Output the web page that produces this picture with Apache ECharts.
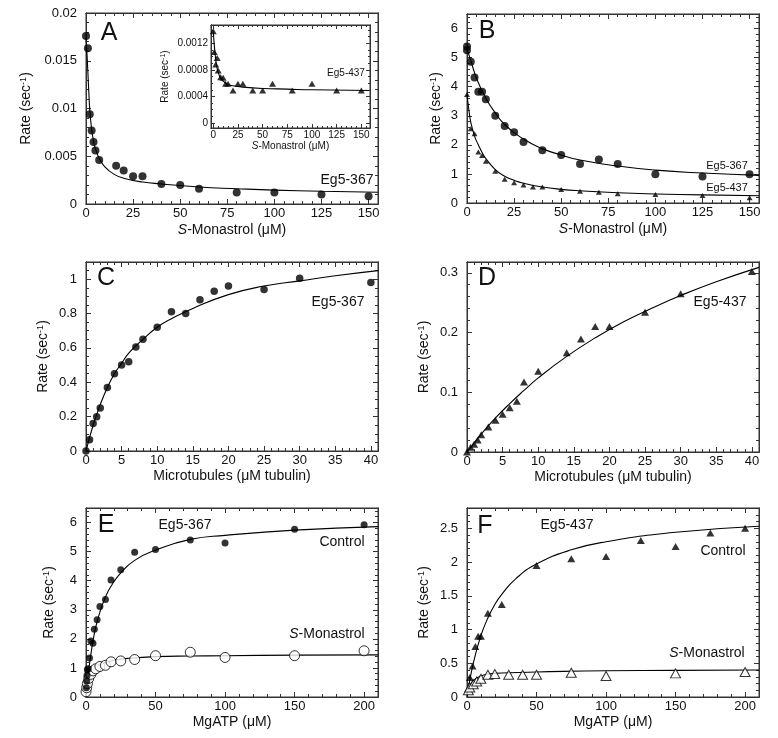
<!DOCTYPE html>
<html><head><meta charset="utf-8">
<script src="https://cdn.jsdelivr.net/npm/echarts@6/dist/echarts.min.js"></script>
<style>html,body{margin:0;padding:0;background:#fff}#c{width:778px;height:738px}</style>
</head><body><div id="c"></div>
<script>
// ---------- DATA ----------
// Panel A: Eg5-367, S-Monastrol
const aX = [0, 1, 2, 3, 4, 5, 7, 16, 20, 25, 30, 40, 50, 60, 80, 100, 125, 150];
const aY = [0.0176, 0.0163, 0.0094, 0.0077, 0.0065, 0.0056, 0.0046, 0.0040, 0.0035, 0.0029, 0.0029, 0.0021, 0.0020, 0.0016, 0.0012, 0.0012, 0.0010, 0.0008];
const fitAX = [0, 0.5, 1, 1.5, 2, 3, 4, 5, 7, 10, 15, 20, 30, 40, 60, 80, 100, 125, 155];
const fitAY = [0.0175, 0.0158, 0.0138, 0.0117, 0.0099, 0.0078, 0.0066, 0.0058, 0.0048, 0.0039, 0.0031, 0.0027, 0.0023, 0.0021, 0.00178, 0.0016, 0.00145, 0.00133, 0.00123];
// Inset: Eg5-437
const insX = [0, 1, 2.5, 4, 5, 7.5, 10, 12.5, 15, 20, 25, 30, 40, 50, 60, 80, 100, 125, 150];
const insY = [0.00138, 0.00107, 0.00088, 0.00098, 0.00079, 0.00069, 0.00068, 0.00059, 0.00059, 0.00049, 0.00059, 0.00059, 0.00049, 0.00049, 0.00059, 0.00049, 0.00059, 0.00049, 0.00049];
const fitInsX = [0, 1, 2, 3, 4, 6, 8, 10, 15, 20, 30, 50, 75, 100, 158];
const fitInsY = [0.00138, 0.00118, 0.00102, 0.0009, 0.00082, 0.00072, 0.00066, 0.00063, 0.00058, 0.00056, 0.00054, 0.00052, 0.00051, 0.0005, 0.00049];
// Panel B
const b367X = [0, 0, 2, 4, 6, 8, 10, 15, 20, 25, 30, 40, 50, 60, 70, 80, 100, 125, 150];
const b367Y = [5.38, 5.25, 4.86, 4.32, 3.83, 3.83, 3.57, 3.0, 2.65, 2.43, 2.1, 1.81, 1.65, 1.34, 1.5, 1.34, 0.99, 0.91, 0.99];
const fitB367X = [0, 2, 5, 10, 15, 20, 30, 40, 50, 60, 80, 100, 125, 155];
const fitB367Y = [5.3, 4.9, 4.3, 3.6, 3.1, 2.7, 2.2, 1.87, 1.65, 1.48, 1.27, 1.13, 1.03, 0.95];
const b437X = [0, 2, 4, 6, 8, 10, 15, 20, 25, 30, 35, 40, 50, 60, 70, 80, 100, 125, 150];
const b437Y = [3.73, 2.55, 2.38, 1.75, 1.63, 1.44, 1.09, 0.82, 0.70, 0.62, 0.55, 0.55, 0.46, 0.40, 0.37, 0.32, 0.29, 0.26, 0.18];
const fitB437X = [0, 1, 2, 4, 6, 8, 10, 15, 20, 25, 30, 40, 50, 60, 80, 100, 125, 155];
const fitB437Y = [3.72, 3.2, 2.78, 2.3, 2.0, 1.74, 1.53, 1.15, 0.92, 0.78, 0.68, 0.55, 0.47, 0.42, 0.35, 0.31, 0.28, 0.25];
// Panel C: Eg5-367, microtubules
const cX = [0, 0.5, 1, 1.5, 2, 3, 4, 5, 6, 7, 8, 10, 12, 14, 16, 18, 20, 25, 30, 40];
const cY = [0, 0.066, 0.16, 0.20, 0.25, 0.37, 0.45, 0.50, 0.52, 0.605, 0.65, 0.72, 0.81, 0.80, 0.88, 0.93, 0.96, 0.94, 1.005, 0.98];
const fitCX = [0, 1, 2, 3, 4, 5, 6, 8, 10, 12, 15, 20, 25, 30, 35, 41];
const fitCY = [0, 0.15, 0.27, 0.37, 0.45, 0.51, 0.57, 0.65, 0.72, 0.77, 0.83, 0.91, 0.96, 0.99, 1.02, 1.05];
// Panel D: Eg5-437, microtubules
const dX = [0, 0.5, 1, 1.5, 2, 3, 4, 5, 6, 7, 8, 10, 14, 16, 18, 20, 25, 30, 40];
const dY = [0, 0.008, 0.013, 0.02, 0.029, 0.042, 0.053, 0.063, 0.074, 0.085, 0.117, 0.135, 0.166, 0.189, 0.21, 0.21, 0.234, 0.265, 0.302];
const fitDX = [0, 2, 4, 6, 8, 10, 14, 18, 22, 26, 30, 35, 41];
const fitDY = [0, 0.03, 0.057, 0.081, 0.103, 0.124, 0.16, 0.191, 0.218, 0.241, 0.262, 0.285, 0.309];
// Panel E: Eg5-367, MgATP
const eCX = [0.25, 0.5, 0.75, 1, 1.5, 2.5, 3.5, 5, 6, 8, 10, 14, 18, 25, 35, 50, 75, 100, 150, 200];
const eCY = [0.32, 0.55, 0.75, 0.94, 0.97, 1.34, 1.93, 1.85, 2.33, 2.66, 3.11, 3.35, 4.02, 4.38, 4.98, 5.07, 5.40, 5.30, 5.77, 5.92];
const fitECX = [0, 1, 2, 3, 5, 7, 10, 14, 18, 25, 35, 50, 75, 100, 150, 210];
const fitECY = [0, 0.51, 0.94, 1.3, 1.91, 2.4, 2.92, 3.44, 3.81, 4.27, 4.7, 5.05, 5.42, 5.56, 5.74, 5.86];
const eMX = [0, 0.5, 1, 2, 3.5, 5, 7, 10, 14, 18, 25, 35, 50, 75, 100, 150, 200];
const eMY = [0.18, 0.32, 0.46, 0.64, 0.78, 0.9, 0.97, 1.05, 1.09, 1.21, 1.24, 1.29, 1.42, 1.54, 1.36, 1.42, 1.59];
const fitEMX = [0, 1, 2, 3, 5, 7, 10, 15, 20, 30, 50, 75, 100, 150, 210];
const fitEMY = [0.05, 0.31, 0.52, 0.67, 0.85, 0.97, 1.1, 1.2, 1.26, 1.33, 1.39, 1.41, 1.42, 1.44, 1.45];
// Panel F: Eg5-437, MgATP
const fCX = [2, 4, 6, 8, 10, 15, 25, 50, 75, 100, 125, 150, 175, 200];
const fCY = [0.29, 0.46, 0.75, 0.90, 0.90, 1.24, 1.37, 1.95, 2.05, 2.08, 2.32, 2.23, 2.43, 2.50];
const fitFCX = [0, 2, 5, 10, 15, 20, 25, 35, 50, 75, 100, 150, 210];
const fitFCY = [0, 0.25, 0.54, 0.91, 1.17, 1.37, 1.52, 1.75, 1.97, 2.18, 2.30, 2.44, 2.53];
const fMX = [1, 2, 4.5, 7, 10, 15, 20, 30, 40, 50, 75, 100, 150, 200];
const fMY = [0.10, 0.14, 0.19, 0.23, 0.27, 0.33, 0.34, 0.33, 0.33, 0.33, 0.36, 0.31, 0.35, 0.37];
const fitFMX = [0, 2, 5, 10, 15, 20, 30, 50, 100, 150, 210];
const fitFMY = [0.05, 0.16, 0.25, 0.31, 0.34, 0.35, 0.36, 0.37, 0.39, 0.395, 0.40];

// Tick labels
const ticksMonastrol = [0, 25, 50, 75, 100, 125, 150];
const ticksAY = [0, 0.005, 0.01, 0.015, 0.02];
const ticksInsY = [0, 0.0004, 0.0008, 0.0012];
const ticksRate6 = [0, 1, 2, 3, 4, 5, 6];
const ticksMT = [0, 5, 10, 15, 20, 25, 30, 35, 40];
const ticksCY = [0, 0.2, 0.4, 0.6, 0.8, 1];
const ticksDY = [0, 0.1, 0.2, 0.3];
const ticksATP = [0, 50, 100, 150, 200];
const ticksFY = [0, 0.5, 1, 1.5, 2, 2.5];

// ---------- BUILD ----------
const FONT = '"Liberation Sans", Arial, Helvetica, sans-serif';
const INK = '#111';
const FRAME = '#333';
function zip(xs, ys) { return xs.map((x, i) => [x, ys[i]]); }
function steps(a, b, s) { const r = []; const n = Math.round((b - a) / s); for (let i = 0; i <= n; i++) r.push(+(a + i * s).toFixed(8)); return r; }

const grids = [], xAxes = [], yAxes = [], series = [];

function richName(fs) {
  return {
    n: { fontSize: fs, fontFamily: FONT, color: INK },
    i: { fontSize: fs, fontFamily: FONT, color: INK, fontStyle: 'italic' },
    s: { fontSize: Math.round(fs * 0.65), fontFamily: FONT, color: INK, verticalAlign: 'top' }
  };
}
function axisDef(g, s, pos, major, primary) {
  const a = {
    type: 'value', gridIndex: g, position: pos, min: s.min, max: s.max, silent: true,
    splitLine: { show: false }, minorTick: { show: false },
    axisLine: { show: true, onZero: false, lineStyle: { color: FRAME, width: 1 } },
    axisTick: { show: true, inside: true, length: major ? s.tl : s.ml, customValues: major ? s.ticks : s.minor, lineStyle: { color: FRAME, width: 1 } },
    axisLabel: { show: primary, customValues: s.ticks, margin: s.margin, fontSize: s.fs, fontFamily: FONT, color: INK, showMinLabel: true, showMaxLabel: true }
  };
  if (primary && s.name) {
    a.name = s.name; a.nameLocation = 'middle'; a.nameGap = s.gap;
    a.nameTextStyle = { fontSize: s.nfs, fontFamily: FONT, color: INK, rich: richName(s.nfs) };
  }
  return a;
}
function addPanel(rect, xs, ys) {
  const g = grids.length;
  grids.push({ left: rect[0], top: rect[1], width: rect[2], height: rect[3], show: true, borderColor: FRAME, borderWidth: 1, backgroundColor: 'rgba(0,0,0,0)', containLabel: false, outerBoundsMode: 'none' });
  const xi = xAxes.length, yi = yAxes.length;
  xAxes.push(axisDef(g, xs, 'bottom', true, true));
  xAxes.push(axisDef(g, xs, 'bottom', false, false));
  xAxes.push(axisDef(g, xs, 'top', true, false));
  xAxes.push(axisDef(g, xs, 'top', false, false));
  yAxes.push(axisDef(g, ys, 'left', true, true));
  yAxes.push(axisDef(g, ys, 'left', false, false));
  yAxes.push(axisDef(g, ys, 'right', true, false));
  yAxes.push(axisDef(g, ys, 'right', false, false));
  return { xi, yi };
}
function scatter(p, xs, ys, symbol, size, filled) {
  series.push({ type: 'scatter', xAxisIndex: p.xi, yAxisIndex: p.yi, data: zip(xs, ys), symbol, symbolSize: size, clip: false, z: 4, silent: true,
    itemStyle: filled ? { color: '#000', borderWidth: 0 } : { color: '#fff', borderColor: '#000', borderWidth: 1 } });
}
function curve(p, xs, ys) {
  series.push({ type: 'line', xAxisIndex: p.xi, yAxisIndex: p.yi, data: zip(xs, ys), showSymbol: false, symbol: 'none', smooth: 0.5, z: 3, silent: true,
    lineStyle: { color: '#000', width: 1.1 } });
}

const YNAME = '{n|Rate (sec}{s|-1}{n|)}';
const big = { fs: 13, nfs: 14, tl: 5, ml: 3 };

// A
const pA = addPanel([86, 13, 292, 191],
  { ...big, min: 0, max: 155, ticks: ticksMonastrol, minor: steps(0, 155, 5), margin: 3, name: '{i|S}{n|-Monastrol (μM)}', gap: 19 },
  { ...big, min: 0, max: 0.02, ticks: ticksAY, minor: steps(0, 0.02, 0.001), margin: 9, name: YNAME, gap: 53 });
curve(pA, fitAX, fitAY);
scatter(pA, aX, aY, 'circle', 8, true);
// Inset
const small = { fs: 10, nfs: 10, tl: 4, ml: 2 };
const pI = addPanel([211, 25, 159, 103],
  { ...small, min: -2.3, max: 158.8, ticks: ticksMonastrol, minor: steps(0, 155, 5), margin: 2, name: '{i|S}{n|-Monastrol (μM)}', gap: 10 },
  { ...small, min: -0.000075, max: 0.001475, ticks: ticksInsY, minor: steps(0, 0.0014, 0.0001), margin: 3, name: YNAME, gap: 41 });
curve(pI, fitInsX, fitInsY);
scatter(pI, insX, insY, 'triangle', [7, 6], true);
// B
const pB = addPanel([467, 14, 292, 189],
  { ...big, min: 0, max: 155, ticks: ticksMonastrol, minor: steps(0, 155, 5), margin: 3, name: '{i|S}{n|-Monastrol (μM)}', gap: 19 },
  { ...big, min: 0, max: 6.5, ticks: ticksRate6, minor: steps(0, 6.4, 0.2), margin: 9, name: YNAME, gap: 24 });
curve(pB, fitB367X, fitB367Y);
curve(pB, fitB437X, fitB437Y);
scatter(pB, b367X, b367Y, 'circle', 8, true);
scatter(pB, b437X, b437Y, 'triangle', [6, 5], true);
// C
const pC = addPanel([86, 262, 292, 189],
  { ...big, min: 0, max: 41, ticks: ticksMT, minor: steps(0, 41, 1), margin: 3, name: '{n|Microtubules (μM tubulin)}', gap: 18 },
  { ...big, min: 0, max: 1.1, ticks: ticksCY, minor: steps(0, 1.1, 0.05), margin: 9, name: YNAME, gap: 36 });
curve(pC, fitCX, fitCY);
scatter(pC, cX, cY, 'circle', 7.5, true);
// D
const pD = addPanel([467, 262, 292, 190],
  { ...big, min: 0, max: 41, ticks: ticksMT, minor: steps(0, 41, 1), margin: 3, name: '{n|Microtubules (μM tubulin)}', gap: 18 },
  { ...big, min: 0, max: 0.318, ticks: ticksDY, minor: steps(0, 0.3, 0.02), margin: 9, name: YNAME, gap: 36 });
curve(pD, fitDX, fitDY);
scatter(pD, dX, dY, 'triangle', [8, 7], true);
// E
const pE = addPanel([86, 508, 292, 189],
  { ...big, min: 0, max: 210, ticks: ticksATP, minor: steps(0, 210, 10), margin: 3, name: '{n|MgATP (μM)}', gap: 18 },
  { ...big, min: 0, max: 6.5, ticks: ticksRate6, minor: steps(0, 6.4, 0.2), margin: 9, name: YNAME, gap: 30 });
curve(pE, fitECX, fitECY);
curve(pE, fitEMX, fitEMY);
scatter(pE, eMX, eMY, 'circle', 10, false);
scatter(pE, eCX, eCY, 'circle', 7, true);
// F
const pF = addPanel([467, 508, 292, 189],
  { ...big, min: 0, max: 210, ticks: ticksATP, minor: steps(0, 210, 10), margin: 3, name: '{n|MgATP (μM)}', gap: 18 },
  { ...big, min: 0, max: 2.8, ticks: ticksFY, minor: steps(0, 2.8, 0.1), margin: 9, name: YNAME, gap: 36 });
curve(pF, fitFCX, fitFCY);
curve(pF, fitFMX, fitFMY);
scatter(pF, fMX, fMY, 'triangle', [10, 9], false);
scatter(pF, fCX, fCY, 'triangle', [8, 7], true);

// ---------- TEXT ANNOTATIONS ----------
function txt(x, y, text, fs) {
  return { type: 'text', x, y, z: 20, silent: true,
    style: { text, fontSize: fs, fontFamily: FONT, fill: INK, align: 'center', verticalAlign: 'middle',
      rich: { n: { fontSize: fs, fontFamily: FONT, fill: INK, color: INK }, i: { fontSize: fs, fontFamily: FONT, fontStyle: 'italic', fill: INK, color: INK } } } };
}
const graphic = [
  txt(109, 33, 'A', 25), txt(487, 31, 'B', 25), txt(106, 278, 'C', 25),
  txt(487, 278, 'D', 25), txt(106, 525, 'E', 25), txt(485, 526, 'F', 25),
  txt(347, 180, 'Eg5-367', 14),
  txt(346, 73, 'Eg5-437', 10),
  txt(727, 166, 'Eg5-367', 11), txt(727, 188, 'Eg5-437', 11),
  txt(338, 302, 'Eg5-367', 14),
  txt(720, 302, 'Eg5-437', 14),
  txt(185, 525, 'Eg5-367', 14), txt(342, 542, 'Control', 14), txt(327, 634, '{i|S}{n|-Monastrol}', 14),
  txt(567, 525, 'Eg5-437', 14), txt(723, 551, 'Control', 14), txt(707, 653, '{i|S}{n|-Monastrol}', 14)
];

const chart = echarts.init(document.getElementById('c'), null, { renderer: 'canvas' });
chart.setOption({
  animation: false,
  backgroundColor: '#fff',
  textStyle: { fontFamily: FONT },
  grid: grids, xAxis: xAxes, yAxis: yAxes, series, graphic
});
</script></body></html>
